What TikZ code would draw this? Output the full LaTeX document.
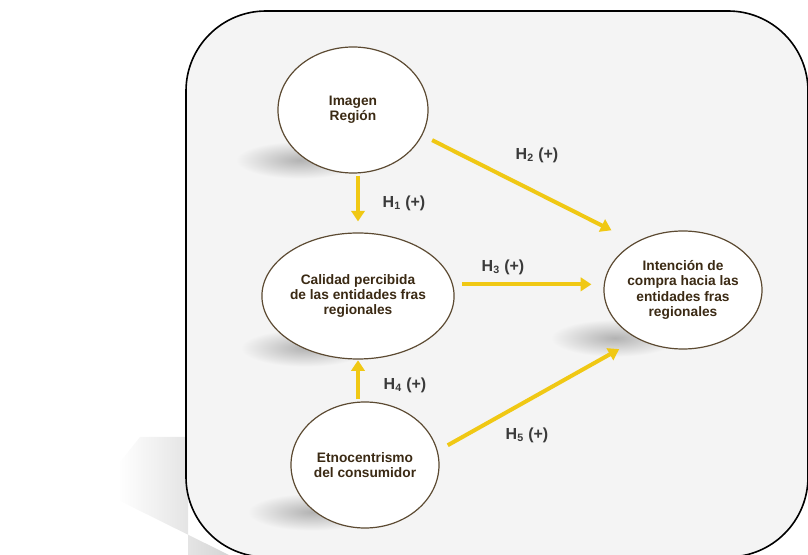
\documentclass[tikz,border=0pt]{standalone}
\usepackage{fontspec}
\setmainfont{Liberation Sans}
\usetikzlibrary{arrows.meta,shapes.geometric,calc}
\definecolor{panelbg}{HTML}{F4F4F4}
\definecolor{ringbrown}{HTML}{5C4A32}
\definecolor{txtbrown}{HTML}{3B2A14}
\definecolor{arrowyellow}{HTML}{F0C814}
\definecolor{labelgray}{HTML}{3A3A3A}

\begin{document}
\begin{tikzpicture}[x=0.75pt,y=-0.75pt,
  construct/.style={ellipse, draw=ringbrown, line width=0.9pt, fill=white,
    align=center, inner sep=0pt, text=txtbrown,
    font=\bfseries\fontsize{10.3}{11.6}\selectfont},
  link/.style={draw=arrowyellow, line width=3pt,
    -{Triangle[length=8pt,width=10pt]}},
  hyp/.style={font=\bfseries\fontsize{12}{14}\selectfont, text=labelgray, inner sep=1pt},
  softshadow/.style={inner color=gray!60, outer color=panelbg},
]
\useasboundingbox (0,0) rectangle (808,555);

% cast shadow of the panel
\shade[left color=white, right color=gray!35]
  (188,437) -- (140,437) -- (120,462) -- (118,500) -- (235,558) -- (188,558) -- cycle;

% panel
\draw[line width=1.2pt, fill=panelbg, rounded corners=60pt] (186,11) rectangle (808,557);

% soft shadows under the constructs
\shade[softshadow] (300,160) ellipse (48pt and 14pt);
\shade[softshadow] (305,348) ellipse (48pt and 14pt);
\shade[softshadow] (312,512) ellipse (48pt and 14pt);
\shade[softshadow] (615,338) ellipse (48pt and 14pt);

% constructs
\node[construct, minimum width=112.5pt, minimum height=94.5pt] (img) at (353,110) {Imagen\\Región};
\node[construct, minimum width=111pt, minimum height=94.5pt] (cal) at (358,296) {Calidad percibida\\de las entidades fras\\regionales};
\node[construct, minimum width=111pt, minimum height=94.5pt] (etn) at (365,465) {Etnocentrismo\\del consumidor};
\node[construct, minimum width=118.5pt, minimum height=88.5pt] (int) at (683,290) {Intención de\\compra hacia las\\entidades fras\\regionales};

% hypothesised paths
\draw[link, shorten <=1.5pt, shorten >=8.2pt] (cal.north |- img.south) -- (cal.north);
\draw[link, shorten <=8.2pt, shorten >=20pt] (img.-20) -- (int.135);
\draw[link, shorten <=6.8pt, shorten >=9pt] (cal.7) -- (cal.7 -| int.west);
\draw[link, shorten <=1.5pt, shorten >=0.5pt] (cal.south |- etn.north) -- (cal.south);
\draw[link, shorten <=8.6pt, shorten >=15.7pt] (etn.11) -- (int.227);

% path labels
\node[hyp] (h1) at (404,203) {H\textsubscript{1} (+)};
\node[hyp] (h2) at (537,155) {H\textsubscript{2} (+)};
\node[hyp] (h3) at (503,267) {H\textsubscript{3} (+)};
\node[hyp] (h4) at (405,385) {H\textsubscript{4} (+)};
\node[hyp] (h5) at (527,435) {H\textsubscript{5} (+)};
\end{tikzpicture}
\end{document}
